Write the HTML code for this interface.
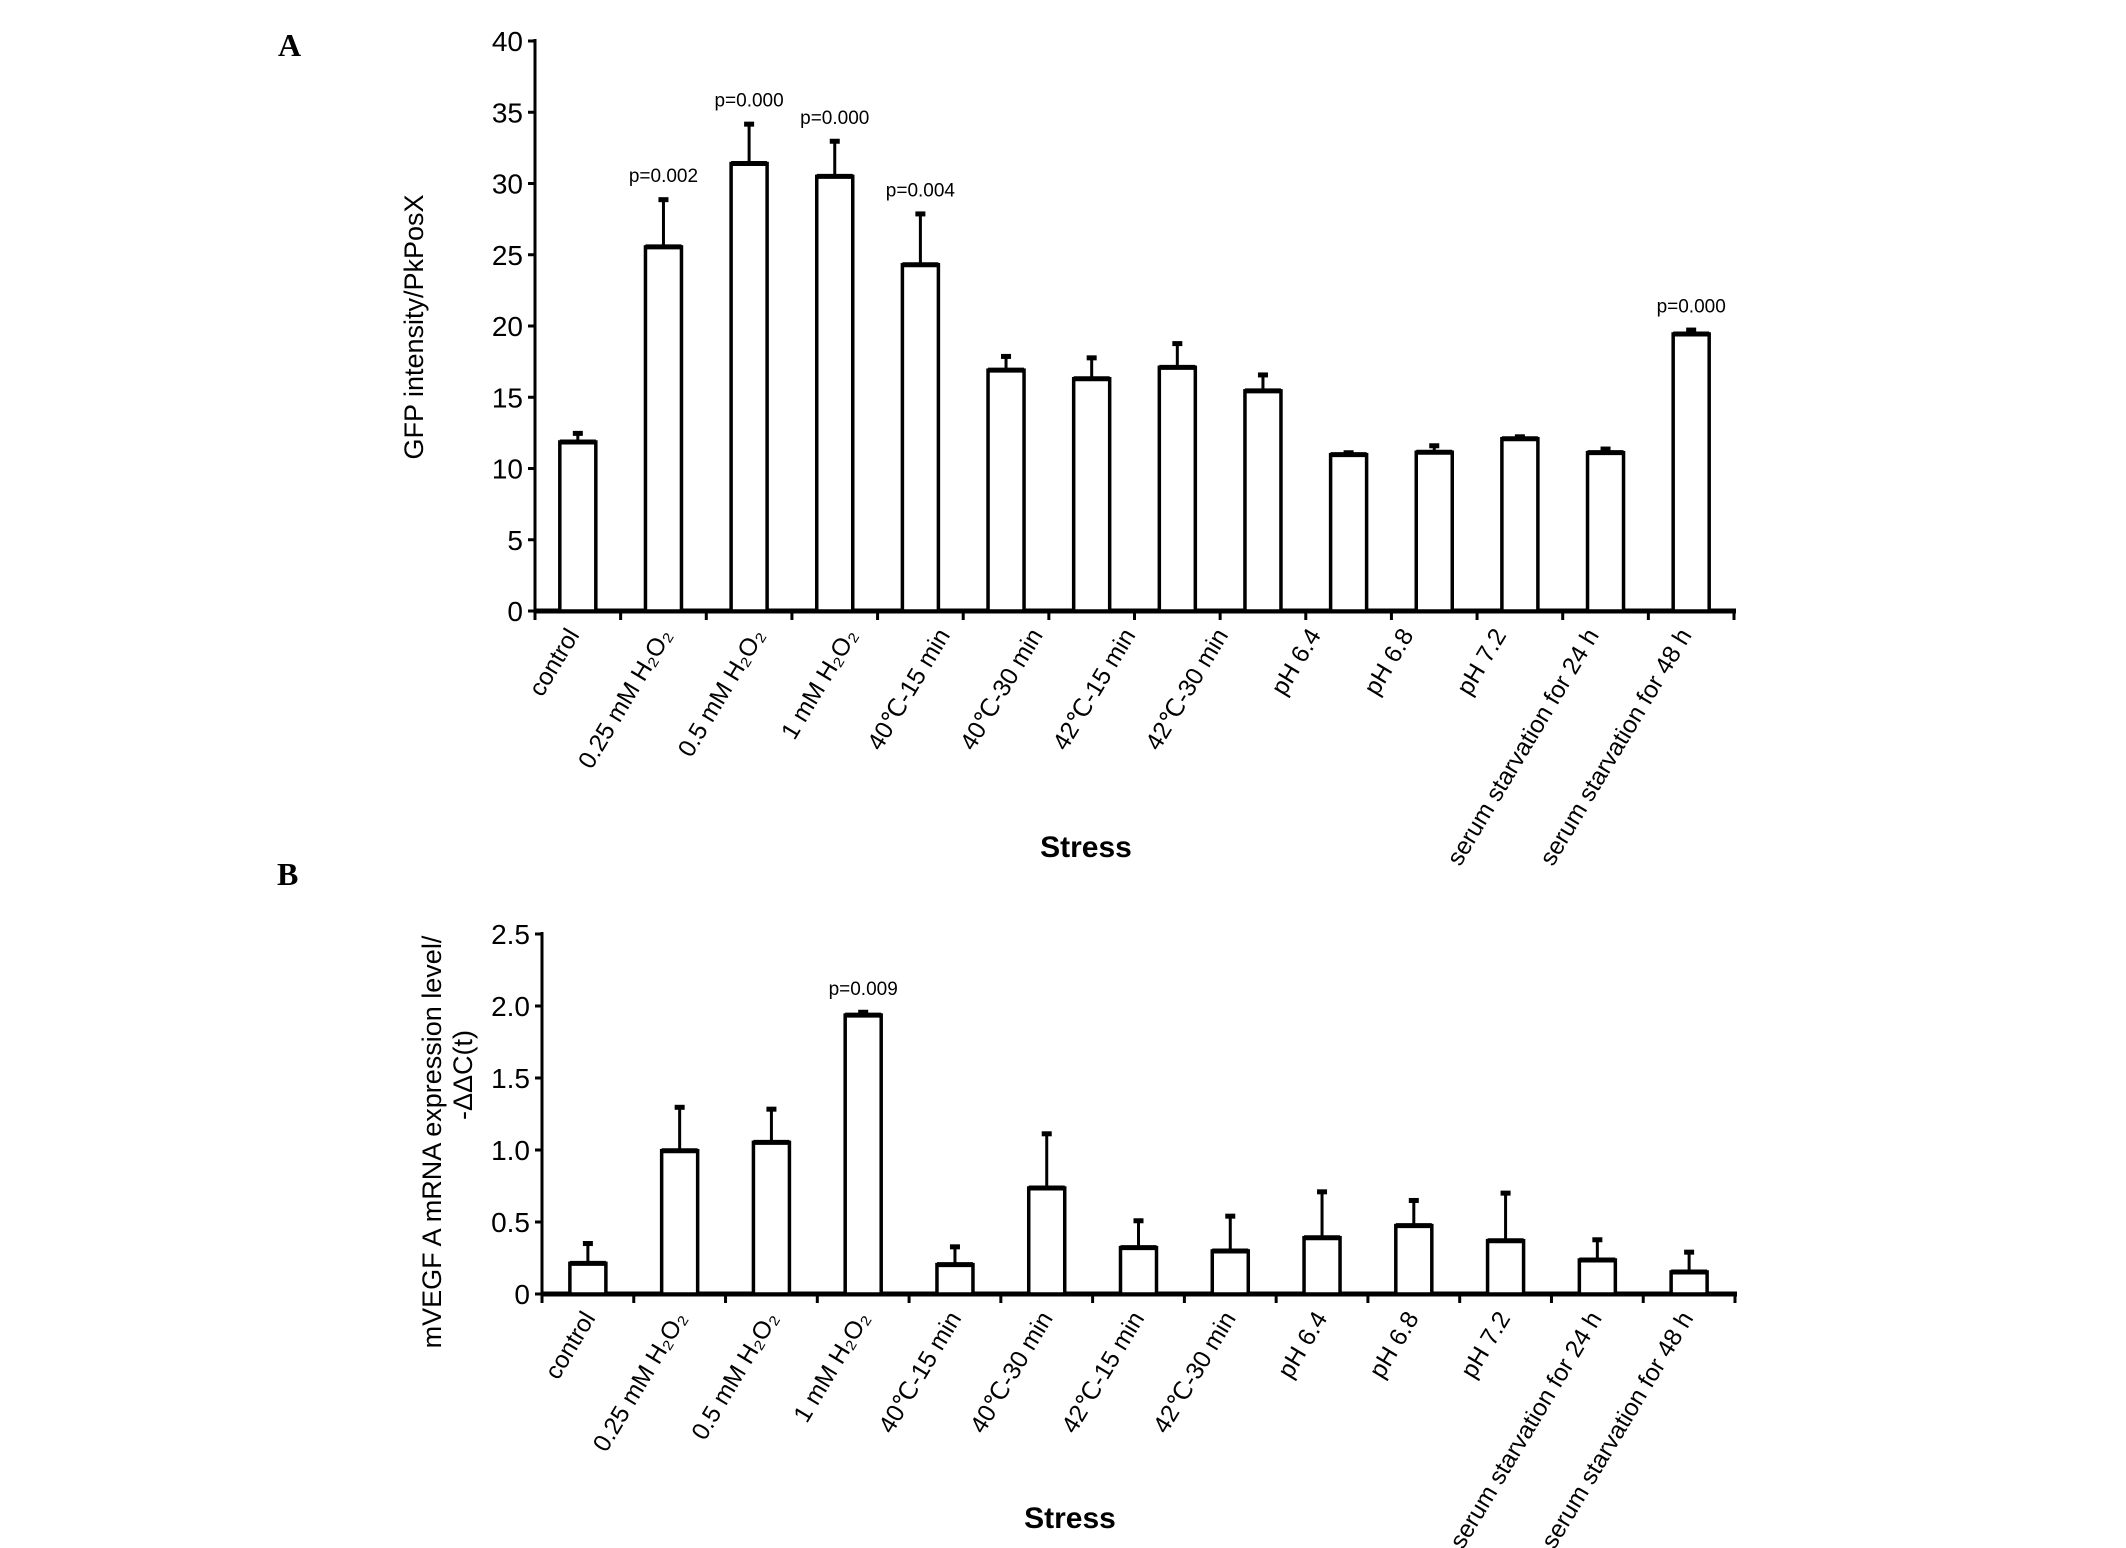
<!DOCTYPE html>
<html><head><meta charset="utf-8"><style>
body{margin:0;background:#fff}
svg{display:block;font-family:"Liberation Sans",sans-serif}
</style></head><body>
<svg id="fig" width="2126" height="1548" viewBox="0 0 2126 1548">
<text x="278" y="56" font-family="Liberation Serif,serif" font-weight="bold" font-size="32">A</text>
<text x="277" y="885" font-family="Liberation Serif,serif" font-weight="bold" font-size="32">B</text>
<text transform="translate(423,327) rotate(-90)" text-anchor="middle" font-size="27">GFP intensity/PkPosX</text>
<text transform="translate(441,1142) rotate(-90)" text-anchor="middle" font-size="27">mVEGF A mRNA expression level/</text>
<text transform="translate(472,1075) rotate(-90)" text-anchor="middle" font-size="27">-ΔΔC(t)</text>
<text x="1086" y="857" text-anchor="middle" font-size="30" font-weight="bold">Stress</text>
<text x="1070" y="1528" text-anchor="middle" font-size="30" font-weight="bold">Stress</text>
</svg>
<script>
const labels = ["control","0.25 mM H₂O₂","0.5 mM H₂O₂","1 mM H₂O₂","40℃-15 min","40℃-30 min","42℃-15 min","42℃-30 min","pH 6.4","pH 6.8","pH 7.2","serum starvation for 24 h","serum starvation for 48 h"];
const aValues = [11.86,25.55,31.4,30.5,24.3,16.9,16.3,17.1,15.45,10.97,11.14,12.09,11.11,19.44];
const aErrTops = [12.5,28.9,34.2,33.0,27.9,17.9,17.8,18.8,16.6,11.14,11.63,12.26,11.4,19.75];
const aPLabels = ["","p=0.002","p=0.000","p=0.000","p=0.004","","","","","","","","","p=0.000"];
const aTicks = [0,5,10,15,20,25,30,35,40];
const bValues = [0.213,0.995,1.053,1.937,0.204,0.736,0.322,0.299,0.391,0.475,0.370,0.236,0.153];
const bErrTops = [0.354,1.30,1.287,1.96,0.331,1.116,0.512,0.544,0.713,0.653,0.704,0.380,0.294];
const bPLabels = ["","","","p=0.009","","","","","","","","",""];
const bTicks = [0,0.5,1.0,1.5,2.0,2.5];
const bTickText = ["0","0.5","1.0","1.5","2.0","2.5"];
const aTickText = ["0","5","10","15","20","25","30","35","40"];

const NS="http://www.w3.org/2000/svg";
const svg=document.getElementById('fig');
function mk(tag,attrs,parent){const e=document.createElementNS(NS,tag);for(const k in attrs)e.setAttribute(k,attrs[k]);(parent||svg).appendChild(e);return e;}

function panel(p,cfg){
  const g=mk('g',{});
  
  
  const {x0,x1,yTop,yZero,max,values,errs,pl,ticks,tickText,labelX0,labelDX}=cfg;
  const n=values.length, slot=(x1-x0)/n;
  const y=v=>yZero-(v/max)*(yZero-yTop);
  const xc=i=>x0+(i+0.5)*slot;
  const ya=mk('line',{x1:x0,y1:yTop-2,x2:x0,y2:yZero,stroke:'#000','stroke-width':3},g);
  
  
  ticks.forEach((t,i)=>{
    const tl=mk('line',{x1:x0-7,y1:y(t),x2:x0,y2:y(t),stroke:'#000','stroke-width':3},g);
    
    
    const tt=mk('text',{x:x0-12,y:y(t)+10,'text-anchor':'end','font-size':28},g);
    tt.textContent=tickText[i];
    
    
  });
  const xa=mk('line',{x1:x0-1,y1:yZero,x2:x1+2,y2:yZero,stroke:'#000','stroke-width':5},g);
  
  
  for(let i=0;i<=n;i++){
    const tx=mk('line',{x1:x0+i*slot,y1:yZero,x2:x0+i*slot,y2:yZero+9,stroke:'#000','stroke-width':3},g);
    
    
  }
  values.forEach((v,i)=>{
    const bw=36, cx=xc(i);
    const e=mk('line',{x1:cx,y1:y(v),x2:cx,y2:y(errs[i]),stroke:'#000','stroke-width':3},g);
    
    
    const c=mk('rect',{x:cx-5,y:y(errs[i])-2,width:10,height:5,fill:'#000'},g);
    
    
    const b=mk('rect',{x:cx-bw/2,y:y(v),width:bw,height:yZero-y(v),fill:'#fff',stroke:'#000','stroke-width':3.5},g);
    
    
    const tp=mk('line',{x1:cx-bw/2,y1:y(v),x2:cx+bw/2,y2:y(v),stroke:'#000','stroke-width':5},g);
    
    
    if(pl[i]){
      const t=mk('text',{x:cx,y:y(errs[i])-17,'text-anchor':'middle','font-size':19},g);
      t.textContent=pl[i];
      
      
    }
  });
  labels.forEach((l,i)=>{
    const lx=labelX0+i*labelDX, ly=yZero+24;
    const t=mk('text',{transform:`translate(${lx},${ly}) rotate(-59)`,'text-anchor':'end','font-size':24.5},g);
    t.textContent=l;
    
    
  });
}
panel('panel-a',{x0:535,x1:1734,yTop:41,yZero:611,max:40,values:aValues,errs:aErrTops,pl:aPLabels,ticks:aTicks,tickText:aTickText,labelX0:580,labelDX:92.7});
panel('panel-b',{x0:542,x1:1735,yTop:934,yZero:1294,max:2.5,values:bValues,errs:bErrTops,pl:bPLabels,ticks:bTicks,tickText:bTickText,labelX0:596,labelDX:91.5});
</script>
</body></html>
